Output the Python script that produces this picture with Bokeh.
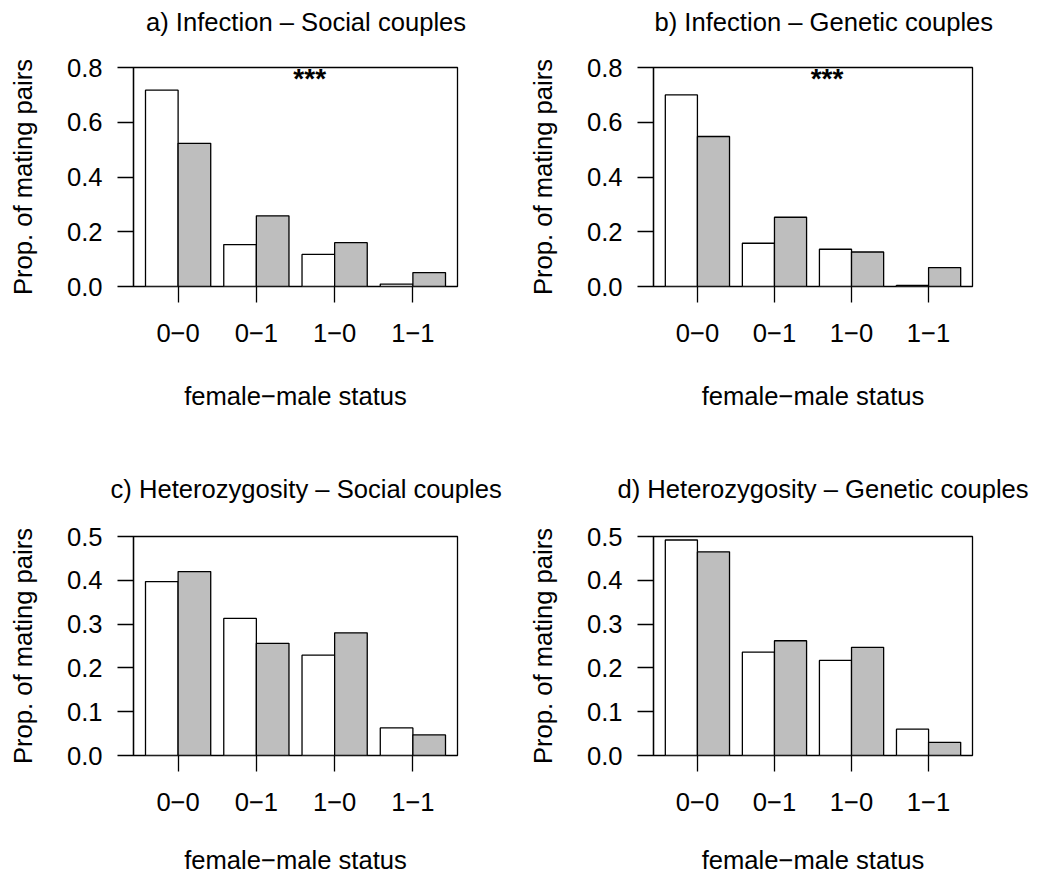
import math
from bokeh.plotting import figure
from bokeh.models import (Range1d, FixedTicker, Label, PrintfTickFormatter,
                          CustomJSTickFormatter, LinearAxis)
from bokeh.layouts import gridplot
from bokeh.embed import file_html
from bokeh.resources import INLINE

# ---------------- data ----------------
categories = ["0\u22120", "0\u22121", "1\u22120", "1\u22121"]

titles = [
    "a) Infection \u2013 Social couples",
    "b) Infection \u2013 Genetic couples",
    "c) Heterozygosity \u2013 Social couples",
    "d) Heterozygosity \u2013 Genetic couples",
]

a_white = [0.717, 0.153, 0.117, 0.009]
a_gray = [0.523, 0.258, 0.160, 0.051]
b_white = [0.700, 0.158, 0.136, 0.004]
b_gray = [0.548, 0.253, 0.126, 0.069]
c_white = [0.397, 0.313, 0.229, 0.063]
c_gray = [0.420, 0.256, 0.280, 0.047]
d_white = [0.492, 0.236, 0.217, 0.060]
d_gray = [0.465, 0.262, 0.247, 0.030]

yticks_infection = [0.0, 0.2, 0.4, 0.6, 0.8]
yticks_hetero = [0.0, 0.1, 0.2, 0.3, 0.4, 0.5]

ylab = "Prop. of mating pairs"
xlab = "female\u2212male status"
signif = ["***", "***", "", ""]

# ---------------- styling ----------------
FONT = "Liberation Sans"
FS = "25.6px"
LW = 1.3
GRAY = "#BEBEBE"
XMIN, XMAX = 0.032, 9.968
FRAME_W = 324
FRAME_H = 219


def make_panel(title, white, gray, yticks, stars, width, height, left, top,
               title_offset, title_gap, xlab_standoff):
    ymax = yticks[-1]
    right = width - left - FRAME_W
    bottom = height - top - FRAME_H
    p = figure(width=width, height=height, x_range=Range1d(XMIN, XMAX),
               y_range=Range1d(0, ymax), output_backend="svg",
               toolbar_location=None, min_border_left=left,
               min_border_right=right, min_border_top=top,
               min_border_bottom=bottom)
    p.xgrid.visible = False
    p.ygrid.visible = False
    p.outline_line_color = "black"
    p.outline_line_width = LW
    p.outline_line_alpha = 1.0
    p.background_fill_color = "white"
    p.border_fill_color = "white"

    n = len(categories)
    centers = [1.4 + 2.4 * i for i in range(n)]

    # invisible spacer axis above the frame, to lift the title
    spacer = LinearAxis(ticker=FixedTicker(ticks=[centers[0]]),
                        formatter=CustomJSTickFormatter(code="return '';"),
                        axis_line_color=None,
                        major_tick_line_color=None, minor_tick_line_color=None,
                        major_tick_out=title_gap, major_tick_in=0,
                        minor_tick_out=0, minor_tick_in=0,
                        major_label_standoff=0,
                        major_label_text_font_size="0px")
    p.add_layout(spacer, "above")

    p.title.text = title
    p.title.align = "left"
    p.title.offset = title_offset
    p.title.standoff = 4
    p.title.text_font = FONT
    p.title.text_font_size = FS
    p.title.text_font_style = "normal"
    p.title.text_color = "black"

    p.vbar(x=[c - 0.5 for c in centers], top=white, bottom=0, width=1,
           fill_color="white", line_color="black", line_width=LW)
    p.vbar(x=[c + 0.5 for c in centers], top=gray, bottom=0, width=1,
           fill_color=GRAY, line_color="black", line_width=LW)

    xa = p.below[0]
    xa.ticker = FixedTicker(ticks=centers)
    xa.formatter = CustomJSTickFormatter(args=dict(labels=categories),
                                         code="return labels[index];")
    xa.axis_line_color = None
    xa.major_label_standoff = 21
    xa.axis_label = xlab
    xa.axis_label_standoff = xlab_standoff

    ya = p.left[0]
    ya.ticker = FixedTicker(ticks=yticks)
    ya.formatter = PrintfTickFormatter(format="%.1f")
    ya.axis_line_color = "black"
    ya.axis_line_width = LW
    ya.major_label_standoff = 15
    ya.axis_label = ylab
    ya.axis_label_standoff = 27

    for ax in (xa, ya):
        ax.major_tick_out = 16
        ax.major_tick_in = 0
        ax.minor_tick_out = 0
        ax.minor_tick_in = 0
        ax.major_tick_line_color = "black"
        ax.major_tick_line_width = LW
        ax.major_label_text_font = FONT
        ax.major_label_text_font_size = FS
        ax.major_label_text_color = "black"
        ax.axis_label_text_font = FONT
        ax.axis_label_text_font_size = FS
        ax.axis_label_text_font_style = "normal"
        ax.axis_label_text_color = "black"

    sx = (XMAX - XMIN) / FRAME_W
    sy = ymax / FRAME_H
    xmid = (XMIN + XMAX) / 2
    if stars:
        p.add_layout(Label(x=xmid + 14.2 * sx, y=ymax - 11.0 * sy, text=stars,
                           text_align="center", text_baseline="alphabetic",
                           text_font=FONT, text_font_size="28px",
                           text_font_style="bold", text_color="black"))
    return p


pa = make_panel(titles[0], a_white, a_gray, yticks_infection, signif[0],
                525, 430, 133, 67, 12.5, 30, 37)
pb = make_panel(titles[1], b_white, b_gray, yticks_infection, signif[1],
                525, 430, 123, 67, 1.0, 30, 37)
pc = make_panel(titles[2], c_white, c_gray, yticks_hetero, signif[2],
                525, 446, 133, 106, -23.0, 32, 32)
pd = make_panel(titles[3], d_white, d_gray, yticks_hetero, signif[3],
                525, 446, 123, 106, -36.0, 32, 32)

layout = gridplot([[pa, pb], [pc, pd]], toolbar_location=None)

open("out.html", "w").write(file_html(layout, INLINE))
